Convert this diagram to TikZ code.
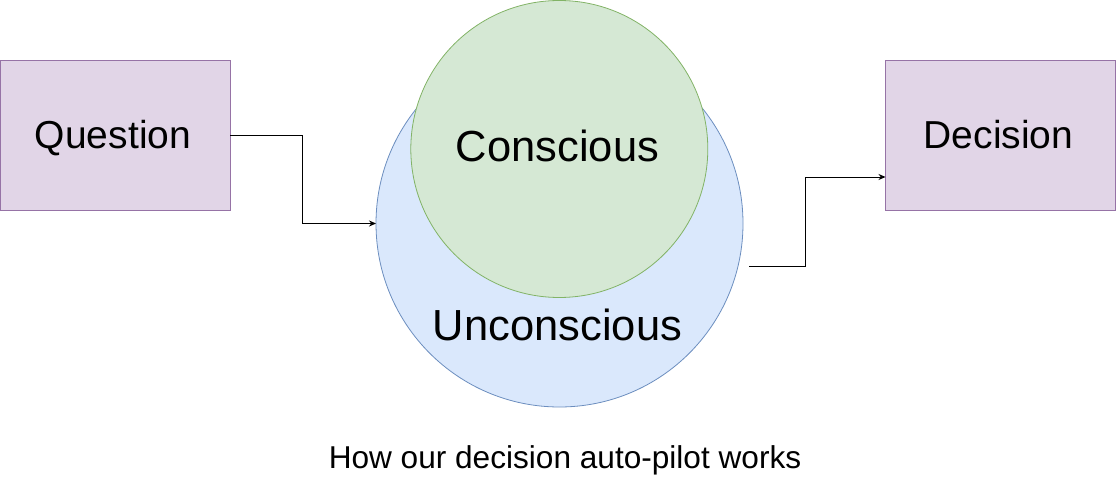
\documentclass[tikz,border=0pt]{standalone}
\usepackage{fontspec}
\setmainfont{Liberation Sans}
\usetikzlibrary{arrows.meta}
\definecolor{purfill}{HTML}{E1D5E7}
\definecolor{purline}{HTML}{9673A6}
\definecolor{bluefill}{HTML}{DAE8FC}
\definecolor{blueline}{HTML}{6C8EBF}
\definecolor{grnfill}{HTML}{D5E8D4}
\definecolor{grnline}{HTML}{82B366}
\tikzset{
  boxnode/.style={draw=purline, fill=purfill, line width=0.9pt, minimum width=230pt, minimum height=150pt, inner sep=0pt, outer sep=0pt},
  bigcirc/.style={circle, draw=blueline, fill=bluefill, line width=0.8pt, minimum size=367pt, inner sep=0pt, outer sep=0pt},
  smallcirc/.style={circle, draw=grnline, fill=grnfill, line width=0.8pt, minimum size=297pt, inner sep=0pt, outer sep=0pt},
  boxtxt/.style={anchor=base, inner sep=0pt, font=\fontsize{39}{47}\selectfont},
  circtxt/.style={anchor=base, inner sep=0pt, font=\fontsize{43.5}{52}\selectfont},
  captxt/.style={anchor=base, inner sep=0pt, font=\fontsize{31.6}{38}\selectfont},
  arr/.style={line width=0.9pt, -{Stealth[length=7pt,width=6pt]}}
}
\begin{document}
\begin{tikzpicture}[x=1pt,y=-1pt]
\useasboundingbox (0,0) rectangle (1116,486);
\node[boxnode] (q) at (115,135) {};
\node[boxtxt] (qt) at (113,149) {Question};
\node[boxnode] (d) at (1000.5,135) {};
\node[boxtxt] (dt) at (998.5,149) {Decision};
\node[bigcirc] (u) at (559.5,223.5) {};
\node[smallcirc] (c) at (559.3,149) {};
\node[circtxt] (ct) at (557.5,162) {Conscious};
\node[circtxt] (ut) at (557.5,340) {Unconscious};
\node[captxt] (cap) at (565,468) {How our decision auto-pilot works};
\coordinate (j1) at (302,135);
\draw[arr] (q.east) -- (j1) |- (u.west);
\coordinate (s) at (749,266);
\coordinate (j2) at (805,266);
\coordinate (j3) at (805,177);
\draw[arr] (s) -- (j2) -- (j3) -- (j3 -| d.west);
\end{tikzpicture}
\end{document}
